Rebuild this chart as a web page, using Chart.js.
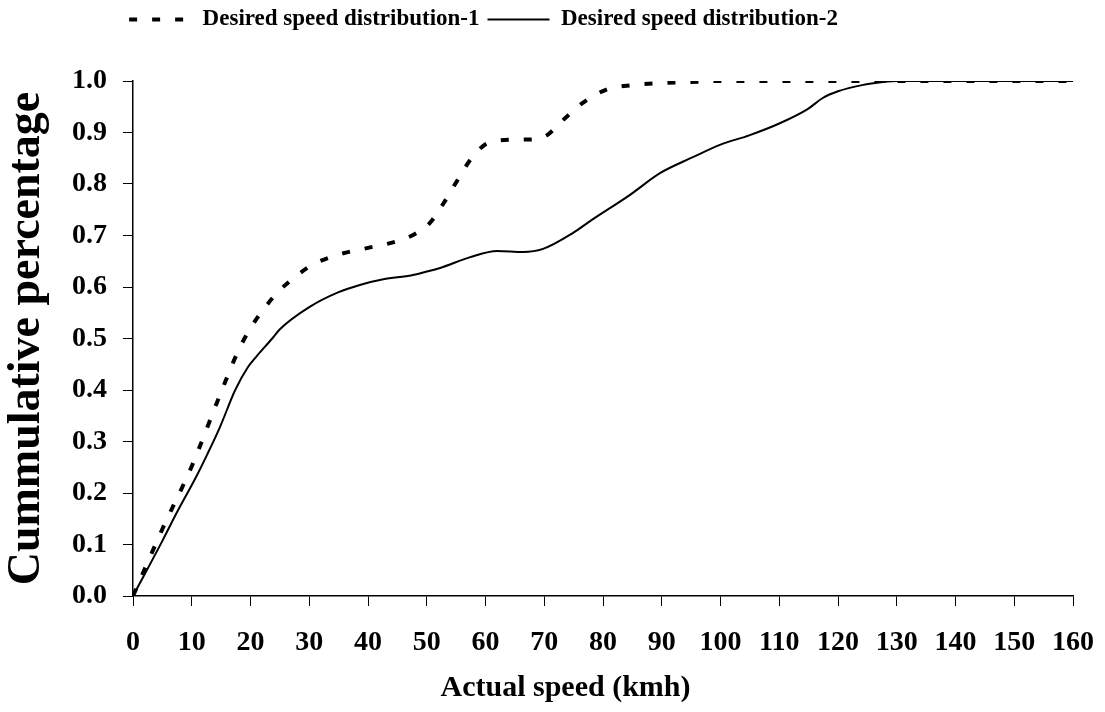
<!DOCTYPE html>
<html>
<head>
<meta charset="utf-8">
<script src="https://cdn.jsdelivr.net/npm/chart.js@4.4.1/dist/chart.umd.min.js"></script>
<style>
  html, body { margin: 0; padding: 0; background: #ffffff; }
  #wrap { width: 1105px; height: 712px; }
</style>
</head>
<body>
<div id="wrap"><canvas id="c" width="1105" height="712"></canvas></div>
<script>
// ---- Data ----
const seriesNames = ['Desired speed distribution-1', 'Desired speed distribution-2'];

const speed1 = [0, 5, 10, 15, 18, 20, 22.5, 25, 28, 30.5, 35, 40, 45, 48, 50.5, 53, 55, 57.5, 60.5, 65, 68.5, 70.5, 73, 76.5, 80.5, 85, 90, 95, 100, 160];
const cum1   = [0, 0.13, 0.252, 0.396, 0.478, 0.52, 0.561, 0.594, 0.623, 0.643, 0.663, 0.676, 0.689, 0.703, 0.724, 0.765, 0.803, 0.848, 0.88, 0.886, 0.887, 0.895, 0.922, 0.957, 0.983, 0.992, 0.996, 0.998, 1.0, 1.0];

const speed2 = [0, 5, 7, 11, 12.6, 14.8, 17.4, 19.6, 21, 23.7, 25, 30, 35, 38.6, 42.6, 47.5, 50, 52.3, 57.4, 62, 66.4, 69.8, 74.9, 77.8, 84.6, 89.7, 95.3, 99.9, 105, 110.1, 114.9, 117.4, 120, 124.1, 127.7, 130, 160];
const cum2   = [0, 0.107, 0.152, 0.237, 0.274, 0.328, 0.4, 0.445, 0.465, 0.5, 0.518, 0.561, 0.59, 0.604, 0.615, 0.623, 0.63, 0.637, 0.658, 0.67, 0.668, 0.674, 0.705, 0.728, 0.779, 0.821, 0.852, 0.876, 0.895, 0.918, 0.946, 0.967, 0.98, 0.992, 0.998, 1.0, 1.0];

const xMin = 0, xMax = 160, xStep = 10;
const yMin = 0, yMax = 1, yStep = 0.1;
const xTitle = 'Actual speed (kmh)';
const yTitle = 'Cummulative percentage';

// ---- Build ----
const toPoints = (xs, ys) => xs.map((x, i) => ({ x: x, y: ys[i] }));
const FONT = "'Liberation Serif', 'Times New Roman', serif";
const PAD = '\u00A0'.repeat(10);

const legendShift = {
  id: 'legendShift',
  afterLayout(chart) {
    const lg = chart.legend;
    if (!lg) return;
    const dy = 40, dx = -53;
    lg.top -= dy; lg.bottom -= dy;
    lg.left += dx; lg.right += dx;
  }
};

new Chart(document.getElementById('c'), {
  type: 'line',
  data: {
    datasets: [
      {
        label: seriesNames[0],
        data: toPoints(speed1, cum1),
        borderColor: '#000000',
        backgroundColor: '#000000',
        borderWidth: 4,
        borderDash: [8, 15],
        pointRadius: 0,
        pointStyle: 'line',
        cubicInterpolationMode: 'monotone',
        fill: false
      },
      {
        label: seriesNames[1],
        data: toPoints(speed2, cum2),
        borderColor: '#000000',
        backgroundColor: '#000000',
        borderWidth: 2,
        pointRadius: 0,
        pointStyle: 'line',
        cubicInterpolationMode: 'monotone',
        fill: false
      }
    ]
  },
  options: {
    responsive: false,
    animation: false,
    events: [],
    layout: { padding: { top: 40, right: 32, left: 0, bottom: 0 } },
    plugins: {
      legend: {
        display: true,
        position: 'top',
        labels: {
          usePointStyle: true,
          pointStyle: 'line',
          pointStyleWidth: 62,
          padding: 8,
          color: '#000000',
          font: { family: FONT, size: 23, weight: 'bold' },
          generateLabels(chart) {
            const items = Chart.defaults.plugins.legend.labels.generateLabels(chart);
            items.forEach((it) => {
              const ds = chart.data.datasets[it.datasetIndex];
              it.lineDash = ds.borderDash || [];
              it.lineWidth = ds.borderWidth;
              it.strokeStyle = ds.borderColor;
            });
            return items;
          }
        }
      },
      tooltip: { enabled: false }
    },
    scales: {
      x: {
        type: 'linear',
        min: xMin, max: xMax,
        afterFit(scale) { scale.height = 116; scale.paddingRight = 0; scale.paddingLeft = 0; },
        ticks: {
          stepSize: xStep,
          autoSkip: false,
          maxRotation: 0,
          padding: 20,
          color: '#000000',
          font: { family: FONT, size: 28, weight: 'bold' }
        },
        grid: { display: true, drawOnChartArea: false, drawTicks: true, tickLength: 10, color: '#000000', lineWidth: 1 },
        border: { display: true, color: '#000000', width: 1.5 },
        title: {
          display: true, text: xTitle + PAD, color: '#000000',
          padding: { top: 0, bottom: 6 },
          font: { family: FONT, size: 30, weight: 'bold' }
        }
      },
      y: {
        type: 'linear',
        min: yMin, max: yMax,
        afterFit(scale) { scale.width = 133; scale.paddingTop = 0; scale.paddingBottom = 0; },
        ticks: {
          stepSize: yStep,
          autoSkip: false,
          padding: 16,
          color: '#000000',
          font: { family: FONT, size: 28, weight: 'bold' },
          callback: (v) => Number(v).toFixed(1)
        },
        grid: { display: true, drawOnChartArea: false, drawTicks: true, tickLength: 10, color: '#000000', lineWidth: 1 },
        border: { display: true, color: '#000000', width: 1.5 },
        title: {
          display: true, text: yTitle, color: '#000000',
          padding: { top: 0, bottom: 0 },
          font: { family: FONT, size: 46, weight: 'bold' }
        }
      }
    }
  },
  plugins: [legendShift]
});
</script>
</body>
</html>
